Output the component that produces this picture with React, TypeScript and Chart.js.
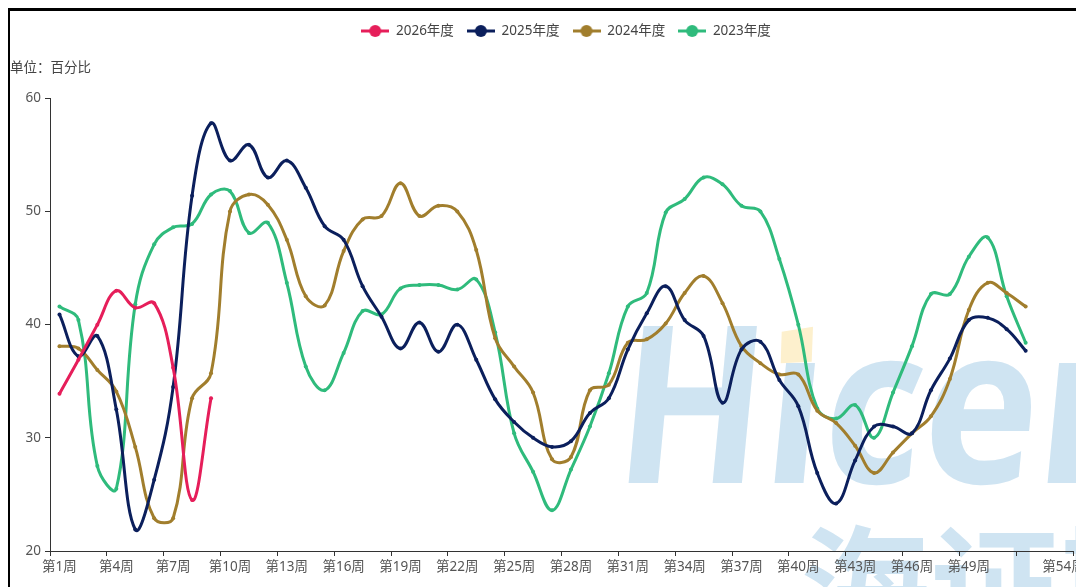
import { useEffect, useRef } from 'react';
import { Chart, registerables } from 'chart.js';

Chart.register(...registerables);

// Week categories on the x axis
const WEEKS: string[] = Array.from({ length: 54 }, (_, i) => `第${i + 1}周`);

// Weekly values (percent) per season
const SEASON_2026: number[] = [33.9, 36.9, 40.0, 43.0, 41.5, 41.9, 36.2, 24.5, 33.5];

const SEASON_2025: number[] = [
  40.9, 37.2, 39.0, 32.5, 21.9, 26.3, 34.5, 51.4, 57.8, 54.5,
  55.9, 53.0, 54.5, 52.1, 48.7, 47.5, 43.4, 40.7, 37.9, 40.2,
  37.6, 40.0, 36.9, 33.4, 31.4, 30.0, 29.2, 29.7, 32.2, 33.5,
  37.8, 41.0, 43.4, 40.4, 39.0, 33.1, 37.8, 38.5, 35.1, 32.8,
  26.9, 24.2, 28.0, 31.0, 31.0, 30.4, 34.2, 37.0, 40.4, 40.6,
  39.6, 37.7,
];

const SEASON_2024: number[] = [
  38.1, 37.9, 36.0, 34.1, 29.2, 22.9, 22.9, 33.5, 35.7, 50.0,
  51.5, 50.6, 47.5, 42.5, 41.7, 46.5, 49.3, 49.6, 52.5, 49.6,
  50.5, 50.0, 46.6, 38.8, 36.3, 34.0, 28.1, 28.3, 34.2, 34.7,
  38.4, 38.7, 40.1, 42.8, 44.3, 41.9, 38.1, 36.6, 35.6, 35.6,
  32.4, 31.3, 29.3, 26.9, 28.7, 30.4, 31.9, 35.2, 41.3, 43.7,
  42.8, 41.6,
];

const SEASON_2023: number[] = [
  41.6, 40.4, 27.5, 25.5, 41.8, 47.1, 48.6, 48.9, 51.5, 51.8,
  48.1, 49.0, 43.7, 36.3, 34.2, 37.5, 41.2, 40.9, 43.2, 43.5,
  43.5, 43.1, 44.0, 39.3, 30.4, 27.0, 23.6, 27.2, 31.0, 35.7,
  41.6, 42.8, 49.9, 51.1, 53.0, 52.4, 50.5, 50.0, 45.8, 40.0,
  32.6, 31.7, 32.9, 30.0, 34.0, 38.1, 42.7, 42.7, 46.0, 47.7,
  42.5, 38.4,
];

const SERIES_NAMES = ['2026年度', '2025年度', '2024年度', '2023年度'];
const SERIES_COLORS = ['#e61e5a', '#0b1f5c', '#a17e2d', '#2fbb7c'];

const Y_MIN = 20;
const Y_MAX = 60;
const Y_STEP = 10;

const UNIT_TEXT = '单位：百分比';
const BRAND_LATIN = 'Hıcend';
const BRAND_CJK = '海证期货';

const FONT_FAMILY = '"Noto Sans", "Noto Sans CJK SC", sans-serif';
const AXIS_COLOR = '#333333';
const LABEL_COLOR = '#555555';

function legendIcon(color: string): HTMLCanvasElement {
  const c = document.createElement('canvas');
  c.width = 28;
  c.height = 14;
  const g = c.getContext('2d')!;
  g.strokeStyle = color;
  g.lineWidth = 3;
  g.beginPath();
  g.moveTo(0, 7);
  g.lineTo(28, 7);
  g.stroke();
  g.fillStyle = color;
  g.beginPath();
  g.arc(14, 7, 6, 0, Math.PI * 2);
  g.fill();
  return c;
}

// Faint brand mark painted first, under axes and lines
const brandPlugin = {
  id: 'brandMark',
  beforeDraw(chart: any) {
    const ctx = chart.ctx as CanvasRenderingContext2D;
    const baseline = 472;
    const slant = 0.096;
    const squeeze = 0.88;
    ctx.save();
    ctx.fillStyle = '#cfe4f2';
    ctx.textBaseline = 'alphabetic';
    ctx.textAlign = 'left';
    ctx.font = '700 220px "Open Sans", "DejaVu Sans", sans-serif';
    const inkLeft = ctx.measureText('H').actualBoundingBoxLeft;
    ctx.translate(618, baseline);
    ctx.transform(squeeze, 0, -slant, 1, 0, 0);
    ctx.fillText(BRAND_LATIN, inkLeft, 0);
    ctx.setTransform(1, 0, 0, 1, 0, 0);
    ctx.font = '700 130px "Noto Sans CJK SC", sans-serif';
    ctx.fillText(BRAND_CJK, 790, 624);
    ctx.fillStyle = '#fdf0cd';
    ctx.beginPath();
    ctx.moveTo(771.7, 320.7);
    ctx.lineTo(803, 315.7);
    ctx.lineTo(801.7, 350.7);
    ctx.lineTo(770.7, 352.3);
    ctx.closePath();
    ctx.fill();
    ctx.restore();
  },
};

// Nudge the legend row slightly to the right of the plot centre
const legendShift = {
  id: 'legendShift',
  afterLayout(chart: any) {
    if (chart.legend) {
      chart.legend.left += 4.5;
      chart.legend.right += 4.5;
    }
  },
};

export default function App() {
  const canvasRef = useRef<HTMLCanvasElement | null>(null);

  useEffect(() => {
    if (!canvasRef.current) return;
    const icons = SERIES_COLORS.map(legendIcon);
    const seriesData = [SEASON_2026, SEASON_2025, SEASON_2024, SEASON_2023];

    const chart = new Chart(canvasRef.current, {
      type: 'line',
      data: {
        labels: WEEKS,
        datasets: seriesData.map((d, i) => ({
          label: SERIES_NAMES[i],
          data: d,
          borderColor: SERIES_COLORS[i],
          backgroundColor: SERIES_COLORS[i],
          borderWidth: 3,
          tension: 0.4,
          pointRadius: 2,
          pointBorderWidth: 0,
          pointBackgroundColor: SERIES_COLORS[i],
          borderCapStyle: 'round' as const,
          borderJoinStyle: 'round' as const,
          fill: false,
        })),
      },
      options: {
        responsive: false,
        animation: false,
        events: [],
        layout: { padding: { top: 0.25, right: 49, left: 0, bottom: 0 } },
        plugins: {
          tooltip: { enabled: false },
          legend: {
            display: true,
            position: 'top',
            fullSize: false,
            align: 'center',
            labels: {
              usePointStyle: true,
              pointStyleWidth: 28,
              boxHeight: 13.5,
              padding: 13,
              color: '#444444',
              font: { size: 13.5, family: FONT_FAMILY },
              generateLabels: (c: any) => {
                const items = (Chart.defaults.plugins.legend.labels as any).generateLabels(c);
                items.forEach((it: any, i: number) => {
                  it.pointStyle = icons[i];
                  it.lineWidth = 0;
                });
                return items;
              },
            },
          },
          title: {
            display: true,
            text: UNIT_TEXT,
            position: 'top',
            align: 'start',
            fullSize: true,
            weight: 500,
            color: '#444444',
            font: { size: 13.5, weight: 'normal', family: FONT_FAMILY },
            padding: { top: 12.65, bottom: 21.7 },
          } as any,
        },
        scales: {
          x: {
            type: 'category',
            offset: true,
            grid: {
              offset: true,
              drawOnChartArea: false,
              drawTicks: true,
              tickLength: 5,
              tickColor: (c: any) =>
                c.index === undefined || c.index % 3 === 0 ? AXIS_COLOR : 'rgba(0,0,0,0)',
            },
            border: { display: true, color: AXIS_COLOR, width: 1 },
            ticks: {
              autoSkip: false,
              maxRotation: 0,
              minRotation: 0,
              padding: 3,
              color: LABEL_COLOR,
              font: { size: 13.5, family: FONT_FAMILY },
              callback: (_v: any, index: number) =>
                (index % 3 === 0 && index !== 51) || index === WEEKS.length - 1 ? WEEKS[index] : '',
            },
            afterFit: (s: any) => {
              s.height = 36;
            },
          },
          y: {
            min: Y_MIN,
            max: Y_MAX,
            grid: {
              drawOnChartArea: false,
              drawTicks: true,
              tickLength: 5,
              tickColor: AXIS_COLOR,
            },
            border: { display: true, color: AXIS_COLOR, width: 1 },
            ticks: {
              stepSize: Y_STEP,
              padding: 4,
              color: LABEL_COLOR,
              font: { size: 13.5, family: FONT_FAMILY },
            },
            afterFit: (s: any) => {
              s.width = 40;
            },
          },
        },
      },
      plugins: [brandPlugin, legendShift],
    } as any);

    return () => chart.destroy();
  }, []);

  return (
    <div style={{ width: 1076, height: 579, overflow: 'hidden' }}>
      <div
        style={{
          width: 1120,
          height: 590,
          borderLeft: '2px solid #000',
          borderTop: '3px solid #000',
        }}
      >
        <canvas ref={canvasRef} width={1112} height={576} style={{ display: 'block' }} />
      </div>
    </div>
  );
}
